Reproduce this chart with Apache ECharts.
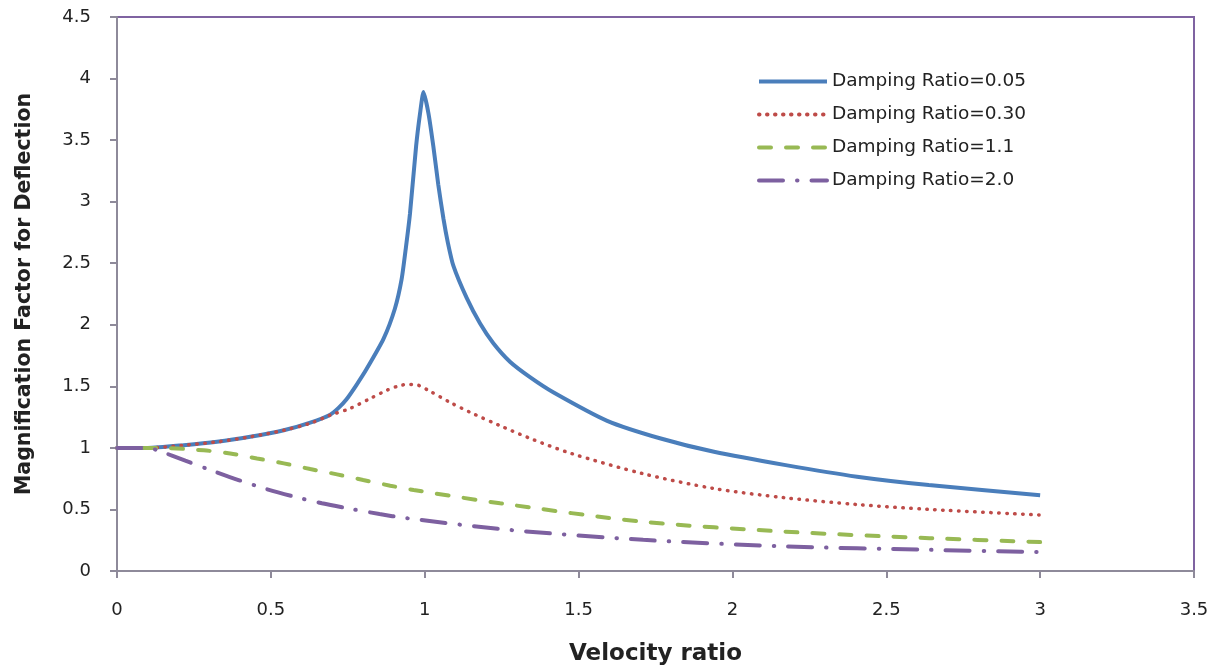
<!DOCTYPE html>
<html><head><meta charset="utf-8">
<script src="https://cdn.jsdelivr.net/npm/echarts@6/dist/echarts.min.js"></script>
<style>html,body{margin:0;padding:0;background:#fff}#c{width:1217px;height:671px}</style>
</head><body><div id="c"></div>
<script>
const seriesNames = ['Damping Ratio=0.05','Damping Ratio=0.30','Damping Ratio=1.1','Damping Ratio=2.0'];
const x005 = [0,0.1,0.217,0.325,0.433,0.542,0.628,0.693,0.72,0.746,0.778,0.811,0.866,0.903,0.925,0.939,0.952,0.972,0.985,0.996,1.012,1.028,1.044,1.061,1.075,1.093,1.136,1.18,1.223,1.277,1.342,1.419,1.593,1.767,1.94,2.173,2.405,2.638,3.0];
const y005 = [1.0,1.0,1.022,1.049,1.09,1.143,1.205,1.27,1.325,1.395,1.51,1.64,1.885,2.13,2.37,2.63,2.90,3.45,3.72,3.89,3.72,3.45,3.14,2.86,2.67,2.48,2.22,2.01,1.85,1.70,1.575,1.45,1.22,1.076,0.968,0.86,0.766,0.698,0.615];
const x030 = [0,0.1,0.217,0.325,0.433,0.542,0.628,0.692,0.757,0.822,0.876,0.92,0.947,0.972,1.012,1.082,1.147,1.245,1.35,1.476,1.71,1.94,2.17,2.405,2.64,3.0];
const y030 = [1.0,1.0,1.022,1.049,1.09,1.143,1.2,1.265,1.32,1.40,1.467,1.507,1.515,1.513,1.467,1.37,1.29,1.18,1.07,0.955,0.79,0.67,0.595,0.54,0.5,0.455];
const x11 = [0,0.14,0.282,0.368,0.455,0.542,0.628,0.715,0.80,0.888,0.964,1.245,1.71,2.17,2.64,3.0];
const y11 = [1.0,1.0,0.98,0.955,0.914,0.874,0.828,0.785,0.739,0.693,0.658,0.55,0.40,0.32,0.267,0.235];
const x20 = [0,0.1,0.135,0.222,0.309,0.395,0.485,0.574,0.666,0.758,0.853,0.937,1.274,1.71,2.17,2.64,3.0];
const y20 = [1.0,1.0,0.977,0.896,0.815,0.739,0.666,0.605,0.55,0.505,0.463,0.43,0.334,0.253,0.20,0.172,0.154];
const xTicks = {min:0,max:3.5,interval:0.5};
const yTicks = {min:0,max:4.5,interval:0.5};
const zip = (xs, ys) => xs.map((v,i)=>[v, ys[i]]);
const FONT = 'DejaVu Sans';
const chart = echarts.init(document.getElementById('c'));
const axisLine = {show:true,onZero:false,lineStyle:{color:'#8e8a9a',width:2}};
const axisTick = {show:true,inside:false,length:7,lineStyle:{color:'#8e8a9a',width:2}};
const labelStyle = {color:'#222',fontSize:18,fontFamily:FONT};
chart.setOption({
  animation:false,
  backgroundColor:'#fff',
  grid:{left:117,top:17,right:23,bottom:98,show:true,borderColor:'#7F63A1',borderWidth:2,backgroundColor:'transparent'},
  xAxis:Object.assign({type:'value',name:'Velocity ratio',nameLocation:'middle',nameGap:72,
    axisLine:axisLine,axisTick:axisTick,splitLine:{show:false},
    axisLabel:Object.assign({margin:30},labelStyle),
    nameTextStyle:{color:'#222',fontSize:23,fontWeight:'bold',fontFamily:FONT}},xTicks),
  yAxis:Object.assign({type:'value',name:'Magnification Factor for Deflection',nameLocation:'middle',nameGap:82,
    axisLine:axisLine,axisTick:axisTick,splitLine:{show:false},
    axisLabel:Object.assign({margin:26},labelStyle),
    nameTextStyle:{color:'#222',fontSize:20.5,fontWeight:'bold',fontFamily:FONT}},yTicks),
  legend:{orient:'vertical',left:752,top:67,itemWidth:68,itemHeight:16,itemGap:14,
    itemStyle:{opacity:0},lineStyle:{width:4},
    textStyle:{color:'#222',fontSize:18.5,fontFamily:FONT},
    data:seriesNames},
  series:[
    {name:seriesNames[0],type:'line',data:zip(x005,y005),smooth:0.2,symbol:'none',lineStyle:{color:'#4A7EBB',width:4},itemStyle:{color:'#4A7EBB'}},
    {name:seriesNames[1],type:'line',data:zip(x030,y030),smooth:0.3,symbol:'none',lineStyle:{color:'#BE4B48',width:3.5,type:[0.5,7.5],cap:'round'},itemStyle:{color:'#BE4B48'}},
    {name:seriesNames[2],type:'line',data:zip(x11,y11),smooth:0.3,symbol:'none',lineStyle:{color:'#98B954',width:4,type:[12,15],cap:'round'},itemStyle:{color:'#98B954'}},
    {name:seriesNames[3],type:'line',data:zip(x20,y20),smooth:0.3,symbol:'none',lineStyle:{color:'#7D60A0',width:4,type:[24,14,0.5,14],cap:'round'},itemStyle:{color:'#7D60A0'}}
  ]
});
</script></body></html>
